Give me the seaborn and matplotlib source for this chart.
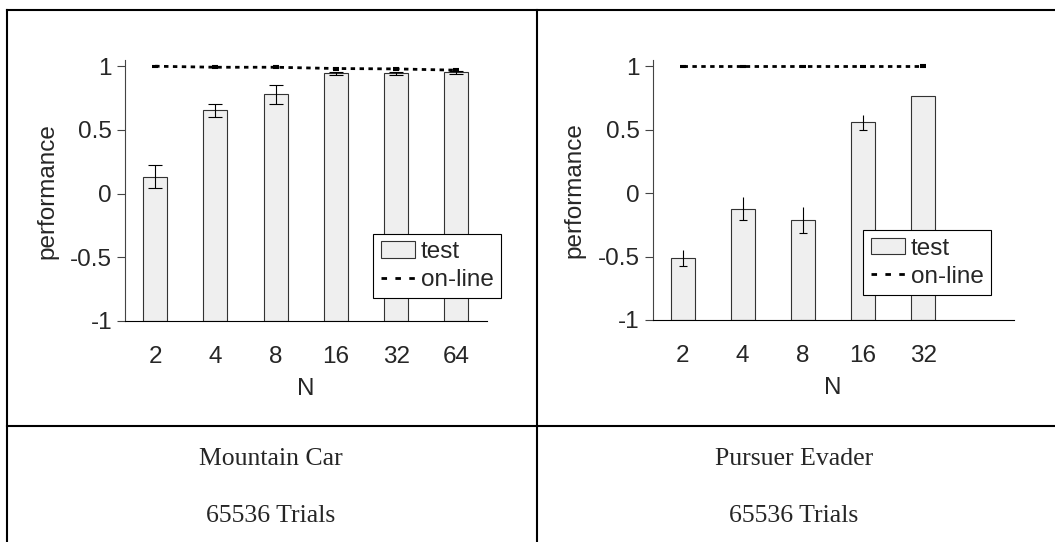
import numpy as np
import pandas as pd
import matplotlib
matplotlib.use("Agg")
import matplotlib.pyplot as plt
from matplotlib.lines import Line2D
from matplotlib.patches import Patch
import seaborn as sns

# ---- data -------------------------------------------------------------
# Mountain Car
mc_n = ["2", "4", "8", "16", "32", "64"]
mc_test = [0.132, 0.653, 0.779, 0.944, 0.944, 0.952]
mc_test_err = [0.090, 0.050, 0.072, 0.010, 0.010, 0.012]
mc_online = [1.000, 0.992, 0.992, 0.982, 0.979, 0.969]
mc_online_err = [0.004, 0.006, 0.006, 0.008, 0.008, 0.010]

# Pursuer Evader
pe_n = ["2", "4", "8", "16", "32"]
pe_test = [-0.512, -0.123, -0.213, 0.558, 0.767]
pe_test_err = [0.061, 0.090, 0.101, 0.058, 0.0]
pe_online = [1.0, 1.0, 1.0, 1.0, 1.0]
pe_online_err = [0.004, 0.004, 0.004, 0.004, 0.006]

task_names = ["Mountain Car", "Pursuer Evader"]
trial_labels = ["65536 Trials", "65536 Trials"]
legend_labels = ["test", "on-line"]
y_ticks = [-1, -0.5, 0, 0.5, 1]
y_tick_labels = ["-1", "-0.5", "0", "0.5", "1"]

# ---- style ------------------------------------------------------------
sns.set_theme(style="white")
plt.rcParams["font.family"] = ["Liberation Sans", "DejaVu Sans"]

W, H = 1055, 542
BASE = -1.0
BAR_FACE = "#efefef"
BAR_EDGE = "#333333"
FS = 17.5

fig = plt.figure(figsize=(W / 100, H / 100), dpi=100)
fig.patch.set_facecolor("white")


def px_axes(left, top, right, bottom):
    return fig.add_axes([left / W, 1 - bottom / H, (right - left) / W, (bottom - top) / H])


def draw_panel(ax, n_labels, test, test_err, online, online_err, top_caps, legend_anchor):
    df = pd.DataFrame({"N": n_labels, "performance": test})
    sns.barplot(data=df, x="N", y="performance", order=n_labels, width=0.4,
                color=BAR_FACE, saturation=1, edgecolor=BAR_EDGE, linewidth=0.8,
                errorbar=None, ax=ax, zorder=2)
    # bars stand on the floor of the value axis rather than on zero
    for patch, v in zip(ax.patches, test):
        patch.set_y(BASE)
        patch.set_height(v - BASE)

    x = np.arange(len(n_labels))
    test = np.asarray(test)
    test_err = np.asarray(test_err)
    has_err = test_err > 0
    if top_caps:
        ax.errorbar(x[has_err], test[has_err], yerr=test_err[has_err], fmt="none",
                    ecolor="black", elinewidth=0.8, capsize=5, capthick=0.8, zorder=3)
    else:
        ax.errorbar(x[has_err], test[has_err], yerr=test_err[has_err], fmt="none",
                    ecolor="black", elinewidth=0.8, capsize=0, zorder=3)
        ax.plot(x[has_err], (test - test_err)[has_err], ls="none", marker="_",
                ms=5.5, mew=0.8, color="black", zorder=3)

    # on-line performance
    ax.errorbar(x, online, yerr=online_err, fmt="none", ecolor="black",
                elinewidth=2.0, capsize=2.5, capthick=1.5, zorder=4)
    ax.plot(x, online, color="black", lw=2.0, linestyle=(0, (1.6, 1.6)),
            dash_capstyle="butt", zorder=4)

    ax.set_xlim(-0.5, 5.5)
    ax.set_ylim(BASE, 1.045)
    ax.set_yticks(y_ticks)
    ax.set_yticklabels(y_tick_labels)
    ax.set_xlabel("N", fontsize=FS, labelpad=7.5)
    ax.set_ylabel("performance", fontsize=FS, labelpad=8.5)
    for side in ("top", "right"):
        ax.spines[side].set_visible(False)
    ax.spines["left"].set_color("#444444")
    ax.spines["left"].set_linewidth(0.8)
    ax.spines["bottom"].set_color("black")
    ax.spines["bottom"].set_linewidth(0.8)
    ax.tick_params(axis="y", direction="out", length=5.8, width=0.8,
                   color="#444444", pad=3.5, labelsize=FS, left=True)
    ax.tick_params(axis="x", length=0, pad=18, labelsize=FS)

    handles = [
        Patch(facecolor=BAR_FACE, edgecolor=BAR_EDGE, linewidth=0.8),
        Line2D([], [], color="black", lw=2.0, linestyle=(0, (2.0, 3.0)),
               dash_capstyle="butt"),
    ]
    leg = ax.legend(handles, legend_labels, loc="upper left",
                    bbox_to_anchor=legend_anchor, frameon=True, fancybox=False,
                    edgecolor="black", framealpha=1, fontsize=FS,
                    handlelength=1.4, handleheight=0.64, handletextpad=0.25,
                    borderpad=0.3, labelspacing=0.25, borderaxespad=0)
    leg.get_frame().set_linewidth(0.8)


ax1 = px_axes(125, 60.5, 486.5, 321)
ax2 = px_axes(652.5, 60.5, 1013.5, 320)

draw_panel(ax1, mc_n, mc_test, mc_test_err, mc_online, mc_online_err,
           True, (0.687, 0.335))
draw_panel(ax2, pe_n, pe_test, pe_test_err, pe_online, pe_online_err,
           False, (0.584, 0.346))

# ---- surrounding table rules and captions -----------------------------
def rule(x0, y0, x1, y1):
    fig.add_artist(Line2D([x0 / W, x1 / W], [1 - y0 / H, 1 - y1 / H],
                          transform=fig.transFigure, color="black", lw=1.5,
                          solid_capstyle="projecting"))


rule(6.7, 10, W + 5, 10)
rule(6.7, 10, 6.7, H + 5)
rule(536.7, 10, 536.7, H + 5)
rule(6.7, 425.7, W + 5, 425.7)

for cx, name, trials in zip([271, 794], task_names, trial_labels):
    fig.text(cx / W, 1 - 465 / H, name, ha="center", va="baseline",
             fontsize=18.5, family=["Liberation Serif", "DejaVu Serif"])
    fig.text(cx / W, 1 - 521.5 / H, trials, ha="center", va="baseline",
             fontsize=18.5, family=["Liberation Serif", "DejaVu Serif"])

fig.savefig("out.png", dpi=100)
